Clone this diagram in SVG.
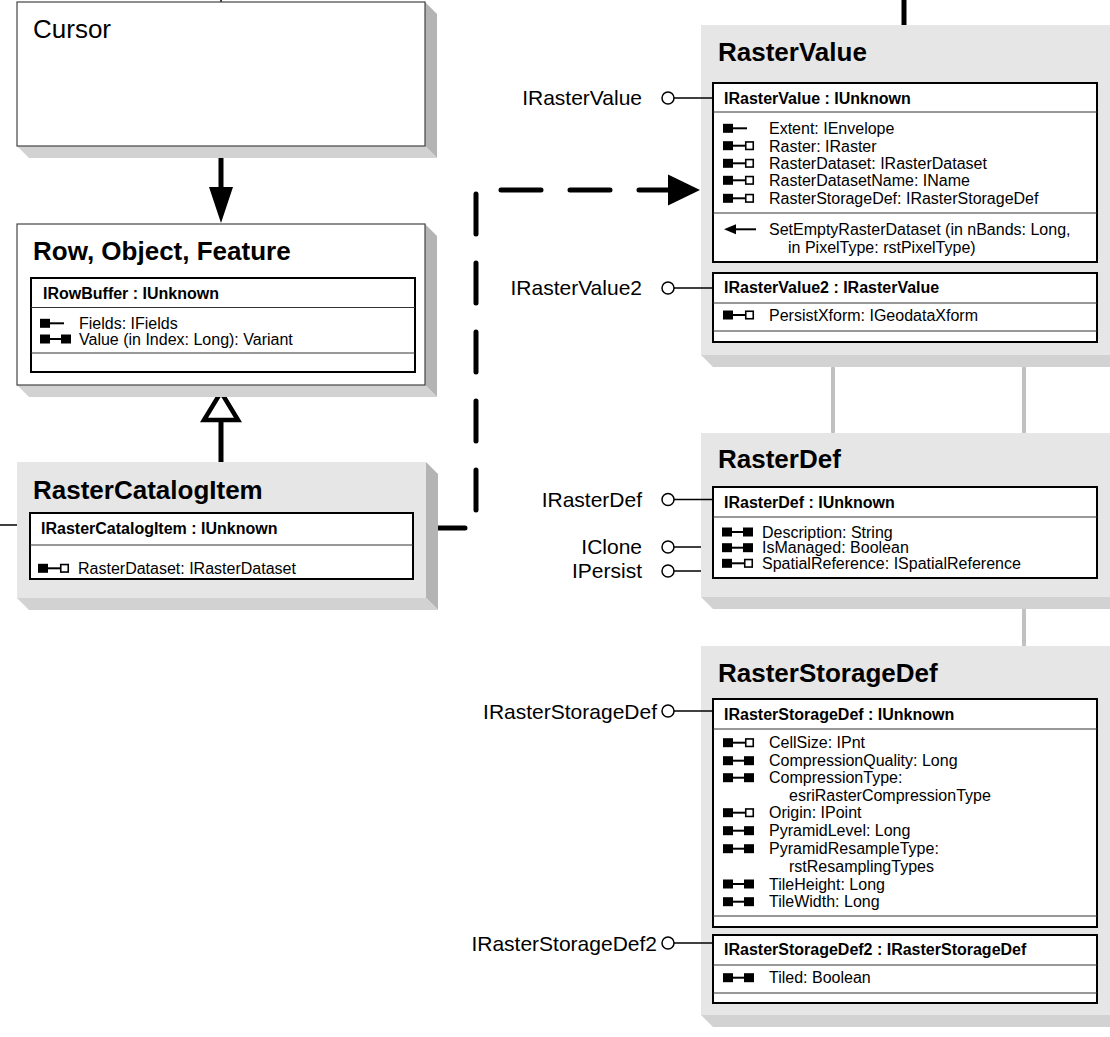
<svg xmlns="http://www.w3.org/2000/svg" xmlns:xlink="http://www.w3.org/1999/xlink" width="1110" height="1037" viewBox="0 0 1110 1037">
<style>
text{font-family:"Liberation Sans",Arial,Helvetica,sans-serif;fill:#000}
.title{font-size:26px;font-weight:bold}
.ctitle{font-size:26px}
.hdr{font-size:16px;font-weight:bold}
.mem{font-size:16px}
.lbl{font-size:21px}
.wbox{fill:#fff;stroke:#444;stroke-width:1.2}
.gbox{fill:#e6e6e6}
.rs{fill:#b4b4b4}
.bs{fill:#d2d2d2}
.ibox{fill:#fff;stroke:#000;stroke-width:2}
.div{stroke:#333;stroke-width:1}
.lol{stroke:#000;stroke-width:1.5;fill:none}
.cir{fill:#fff;stroke:#000;stroke-width:1.5}
.gray{stroke:#c0c0c0;stroke-width:4;stroke-linecap:round}
.thick{stroke:#000;stroke-width:5;fill:none}
</style>
<defs>
<g id="gg"><rect x="0" y="-4.5" width="10" height="9"/><line x1="10" y1="0" x2="21" y2="0" stroke="#000" stroke-width="2"/><rect x="21" y="-4.5" width="10" height="9"/></g>
<g id="gh"><rect x="0" y="-4.5" width="10" height="9"/><line x1="10" y1="0" x2="22" y2="0" stroke="#000" stroke-width="2"/><rect x="22.75" y="-3.75" width="7.5" height="7.5" fill="#fff" stroke="#000" stroke-width="1.6"/></g>
<g id="g1"><rect x="0" y="-4.5" width="10" height="9"/><line x1="10" y1="0" x2="24" y2="0" stroke="#000" stroke-width="2"/></g>
<g id="mt"><path d="M0,0 L12,-5 L12,5 Z"/><line x1="12" y1="0" x2="32" y2="0" stroke="#000" stroke-width="2"/></g>
</defs>

<g id="connectors">
  <line x1="221" y1="0" x2="221" y2="2" stroke="#000" stroke-width="1.5"/>
  <line x1="904" y1="0" x2="904" y2="25" class="thick"/>
  <line x1="221" y1="146" x2="221" y2="190" class="thick"/>
  <path d="M209,187 L233,187 L221,223 Z" fill="#000"/>
  <line x1="221" y1="421" x2="221" y2="462" class="thick"/>
  <path d="M221,392 L238,420 L204,420 Z" fill="#fff" stroke="#000" stroke-width="4.5" stroke-linejoin="miter"/>
  <path d="M437,528 L476,528 L476,190 L668,190" fill="none" stroke="#000" stroke-width="5" stroke-linecap="round" stroke-dasharray="40 29" stroke-dashoffset="12"/>
  <path d="M668,174.5 L700,190 L668,205.5 Z" fill="#000"/>
  <line x1="0" y1="525" x2="30" y2="525" class="lol"/>
  <line x1="833" y1="368" x2="833" y2="432" class="gray"/>
  <line x1="1024" y1="368" x2="1024" y2="432" class="gray"/>
  <line x1="1024" y1="610" x2="1024" y2="645" class="gray"/>
</g>

<g id="node-cursor">
  <polygon class="rs" points="425,2 437,14 437,158 425,146"/>
  <polygon class="bs" points="17,146 425,146 437,158 29,158"/>
  <rect class="wbox" x="17" y="2" width="408" height="144"/>
  <text class="ctitle" x="33" y="38">Cursor</text>
</g>

<g id="node-row">
  <polygon class="rs" points="425,224 437,236 437,397 425,385"/>
  <polygon class="bs" points="17,385 425,385 437,397 29,397"/>
  <rect class="wbox" x="17" y="224" width="408" height="161"/>
  <text class="title" x="33" y="260">Row, Object, Feature</text>
  <rect class="ibox" x="31" y="278" width="384" height="94"/>
  <line class="div" x1="31" y1="307.5" x2="415" y2="307.5"/>
  <line class="div" x1="31" y1="353" x2="415" y2="353"/>
  <text class="hdr" x="43" y="298.5">IRowBuffer : IUnknown</text>
  <use xlink:href="#g1" x="40" y="323.3"/>
  <text class="mem" x="79" y="329">Fields: IFields</text>
  <use xlink:href="#gg" x="40" y="339"/>
  <text class="mem" x="79" y="344.7">Value (in Index: Long): Variant</text>
</g>

<g id="node-rastercatalogitem">
  <polygon class="rs" points="426,462 438,474 438,610 426,598"/>
  <polygon class="bs" points="17,598 426,598 438,610 29,610"/>
  <rect class="gbox" x="17" y="462" width="409" height="136"/>
  <text class="title" x="33" y="499">RasterCatalogItem</text>
  <rect class="ibox" x="30" y="513" width="383" height="66"/>
  <line class="div" x1="30" y1="545" x2="413" y2="545"/>
  <text class="hdr" x="41" y="534">IRasterCatalogItem : IUnknown</text>
  <use xlink:href="#gh" x="38" y="568.3"/>
  <text class="mem" x="78" y="574">RasterDataset: IRasterDataset</text>
</g>

<g id="node-rastervalue">
  <polygon class="bs" points="701,355 1110,355 1122,367 713,367"/>
  <rect class="gbox" x="701" y="25" width="409" height="330"/>
  <text class="title" x="718" y="61">RasterValue</text>
  <rect class="ibox" x="713" y="83" width="384" height="179"/>
  <line class="div" x1="713" y1="112" x2="1097" y2="112"/>
  <line class="div" x1="713" y1="213" x2="1097" y2="213"/>
  <text class="hdr" x="724" y="103.5">IRasterValue : IUnknown</text>
  <use xlink:href="#g1" x="723" y="128.3"/>
  <text class="mem" x="769" y="134">Extent: IEnvelope</text>
  <use xlink:href="#gh" x="723" y="145.7"/>
  <text class="mem" x="769" y="151.5">Raster: IRaster</text>
  <use xlink:href="#gh" x="723" y="163.3"/>
  <text class="mem" x="769" y="169">RasterDataset: IRasterDataset</text>
  <use xlink:href="#gh" x="723" y="180.3"/>
  <text class="mem" x="769" y="186">RasterDatasetName: IName</text>
  <use xlink:href="#gh" x="723" y="198.3"/>
  <text class="mem" x="769" y="204">RasterStorageDef: IRasterStorageDef</text>
  <use xlink:href="#mt" x="724" y="229.3"/>
  <text class="mem" x="769" y="235">SetEmptyRasterDataset (in nBands: Long,</text>
  <text class="mem" x="788" y="252.5">in PixelType: rstPixelType)</text>
  <rect class="ibox" x="713" y="273" width="384" height="69"/>
  <line class="div" x1="713" y1="303" x2="1097" y2="303"/>
  <line class="div" x1="713" y1="331" x2="1097" y2="331"/>
  <text class="hdr" x="724" y="293">IRasterValue2 : IRasterValue</text>
  <use xlink:href="#gh" x="723" y="315"/>
  <text class="mem" x="769" y="320.7">PersistXform: IGeodataXform</text>
  <text class="lbl" x="642" y="105" text-anchor="end">IRasterValue</text>
  <line class="lol" x1="674" y1="98" x2="713" y2="98"/>
  <circle class="cir" cx="668" cy="98" r="6"/>
  <text class="lbl" x="642" y="295" text-anchor="end">IRasterValue2</text>
  <line class="lol" x1="674" y1="288" x2="713" y2="288"/>
  <circle class="cir" cx="668" cy="288" r="6"/>
</g>

<g id="node-rasterdef">
  <polygon class="bs" points="701,597 1110,597 1122,609 713,609"/>
  <rect class="gbox" x="701" y="433" width="409" height="164"/>
  <text class="title" x="718" y="468">RasterDef</text>
  <rect class="ibox" x="713" y="487" width="384" height="91"/>
  <line class="div" x1="713" y1="517" x2="1097" y2="517"/>
  <text class="hdr" x="724" y="507.5">IRasterDef : IUnknown</text>
  <use xlink:href="#gg" x="722" y="532"/>
  <text class="mem" x="762" y="537.7">Description: String</text>
  <use xlink:href="#gg" x="722" y="547.7"/>
  <text class="mem" x="762" y="553.4">IsManaged: Boolean</text>
  <use xlink:href="#gh" x="722" y="563.3"/>
  <text class="mem" x="762" y="569">SpatialReference: ISpatialReference</text>
  <text class="lbl" x="642" y="506.5" text-anchor="end">IRasterDef</text>
  <line class="lol" x1="674" y1="499.5" x2="713" y2="499.5"/>
  <circle class="cir" cx="668" cy="499.5" r="6"/>
  <text class="lbl" x="642" y="554" text-anchor="end">IClone</text>
  <line class="lol" x1="674" y1="547" x2="701" y2="547"/>
  <circle class="cir" cx="668" cy="547" r="6"/>
  <text class="lbl" x="642" y="578" text-anchor="end">IPersist</text>
  <line class="lol" x1="674" y1="571" x2="701" y2="571"/>
  <circle class="cir" cx="668" cy="571" r="6"/>
</g>

<g id="node-rasterstoragedef">
  <polygon class="bs" points="701,1015 1110,1015 1122,1027 713,1027"/>
  <rect class="gbox" x="701" y="646" width="409" height="369"/>
  <text class="title" x="718" y="682">RasterStorageDef</text>
  <rect class="ibox" x="713" y="699" width="384" height="228"/>
  <line class="div" x1="713" y1="729" x2="1097" y2="729"/>
  <line class="div" x1="713" y1="916" x2="1097" y2="916"/>
  <text class="hdr" x="724" y="720">IRasterStorageDef : IUnknown</text>
  <use xlink:href="#gh" x="723" y="742.7"/>
  <text class="mem" x="769" y="748.4">CellSize: IPnt</text>
  <use xlink:href="#gg" x="723" y="760.7"/>
  <text class="mem" x="769" y="766.4">CompressionQuality: Long</text>
  <use xlink:href="#gg" x="723" y="777.7"/>
  <text class="mem" x="769" y="783.4">CompressionType:</text>
  <text class="mem" x="789" y="801.4">esriRasterCompressionType</text>
  <use xlink:href="#gh" x="723" y="812.7"/>
  <text class="mem" x="769" y="818.4">Origin: IPoint</text>
  <use xlink:href="#gg" x="723" y="830.7"/>
  <text class="mem" x="769" y="836.4">PyramidLevel: Long</text>
  <use xlink:href="#gg" x="723" y="848.7"/>
  <text class="mem" x="769" y="854.4">PyramidResampleType:</text>
  <text class="mem" x="789" y="871.7">rstResamplingTypes</text>
  <use xlink:href="#gg" x="723" y="884"/>
  <text class="mem" x="769" y="889.7">TileHeight: Long</text>
  <use xlink:href="#gg" x="723" y="901.7"/>
  <text class="mem" x="769" y="907.4">TileWidth: Long</text>
  <rect class="ibox" x="713" y="935" width="384" height="68"/>
  <line class="div" x1="713" y1="965" x2="1097" y2="965"/>
  <line class="div" x1="713" y1="993" x2="1097" y2="993"/>
  <text class="hdr" x="724" y="955">IRasterStorageDef2 : IRasterStorageDef</text>
  <use xlink:href="#gg" x="723" y="977.7"/>
  <text class="mem" x="769" y="983.4">Tiled: Boolean</text>
  <text class="lbl" x="657" y="718.5" text-anchor="end">IRasterStorageDef</text>
  <line class="lol" x1="674" y1="711" x2="713" y2="711"/>
  <circle class="cir" cx="668" cy="711" r="6"/>
  <text class="lbl" x="657" y="950.5" text-anchor="end">IRasterStorageDef2</text>
  <line class="lol" x1="674" y1="943" x2="713" y2="943"/>
  <circle class="cir" cx="668" cy="943" r="6"/>
</g>
</svg>
